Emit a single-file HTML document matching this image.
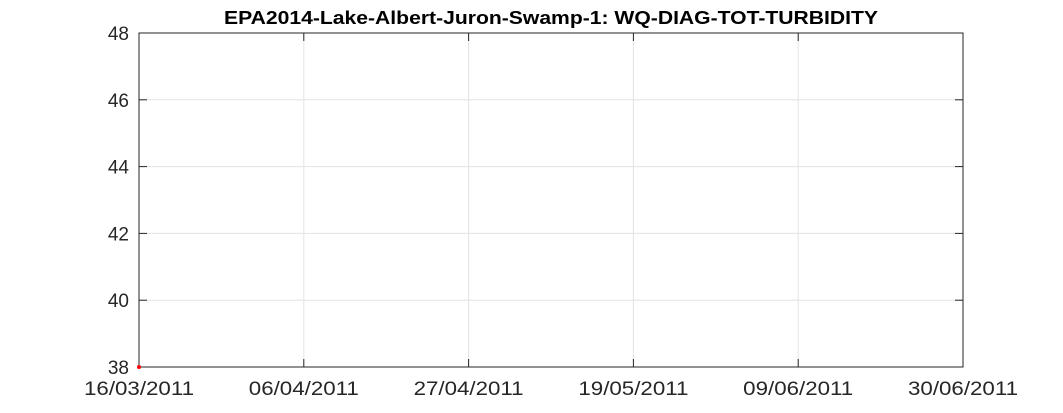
<!DOCTYPE html>
<html><head><meta charset="utf-8"><style>
body{margin:0;background:#fff;}
svg{display:block;font-family:"Liberation Sans",Arial,sans-serif;}
</style></head><body>
<svg id="chart" width="1063" height="413" viewBox="0 0 1063 413">
<rect width="1063" height="413" fill="#fff"/>
<text x="551" y="24" text-anchor="middle" font-size="18" font-weight="bold" fill="#000" textLength="654" lengthAdjust="spacingAndGlyphs">EPA2014-Lake-Albert-Juron-Swamp-1: WQ-DIAG-TOT-TURBIDITY</text>
<g id="grid"></g><g id="axes"></g><g id="marks"></g>
</svg>
<script>
const xTickLabels=["16/03/2011","06/04/2011","27/04/2011","19/05/2011","09/06/2011","30/06/2011"];
const yTicks=[38,40,42,44,46,48];
const seriesDates=["2011-03-16"];
const seriesValues=[38];
const L=139,R=963,T=33,B=367;
const NS="http://www.w3.org/2000/svg";
function parseDMY(s){const p=s.split("/");return Date.UTC(+p[2],+p[1]-1,+p[0]);}
const x0=parseDMY(xTickLabels[0]),x1=parseDMY(xTickLabels[xTickLabels.length-1]);
function xs(t){return L+(t-x0)/(x1-x0)*(R-L);}
function ys(v){return B-(v-yTicks[0])/(yTicks[yTicks.length-1]-yTicks[0])*(B-T);}
function mk(tag,a,parent){const e=document.createElementNS(NS,tag);for(const k in a)e.setAttribute(k,a[k]);document.getElementById(parent).appendChild(e);return e;}
const nX=xTickLabels.length-1;
xTickLabels.forEach((s,i)=>{const x=xs(x0+i*(x1-x0)/nX);
 const g=mk("line",{x1:x,x2:x,y1:T,y2:B,stroke:"#e3e3e3","stroke-width":1},"grid");
 
 
 mk("line",{x1:x,x2:x,y1:B,y2:B-8,stroke:"#262626"},"axes");
 mk("line",{x1:x,x2:x,y1:T,y2:T+8,stroke:"#262626"},"axes");
 const t=mk("text",{x:x,y:B+28,"text-anchor":"middle","font-size":19,fill:"#262626",textLength:110,lengthAdjust:"spacingAndGlyphs"},"axes");t.textContent=s;
 
 
});
yTicks.forEach(v=>{const y=ys(v);
 const g=mk("line",{x1:L,x2:R,y1:y,y2:y,stroke:"#e3e3e3","stroke-width":1},"grid");
 
 
 mk("line",{x1:L,x2:L+8,y1:y,y2:y,stroke:"#262626"},"axes");
 mk("line",{x1:R,x2:R-8,y1:y,y2:y,stroke:"#262626"},"axes");
 const t=mk("text",{x:L-10,y:y+7,"text-anchor":"end","font-size":19,fill:"#262626"},"axes");t.textContent=v;
 
 
});
const box=mk("rect",{x:L,y:T,width:R-L,height:B-T,fill:"none",stroke:"#262626","stroke-width":1},"axes");


seriesDates.forEach((d,i)=>{const p=d.split("-");const t=Date.UTC(+p[0],+p[1]-1,+p[2]);
 const c=mk("circle",{cx:xs(t),cy:ys(seriesValues[i]),r:2,fill:"#ff0000"},"marks");
 
 
});
</script>
</body></html>
